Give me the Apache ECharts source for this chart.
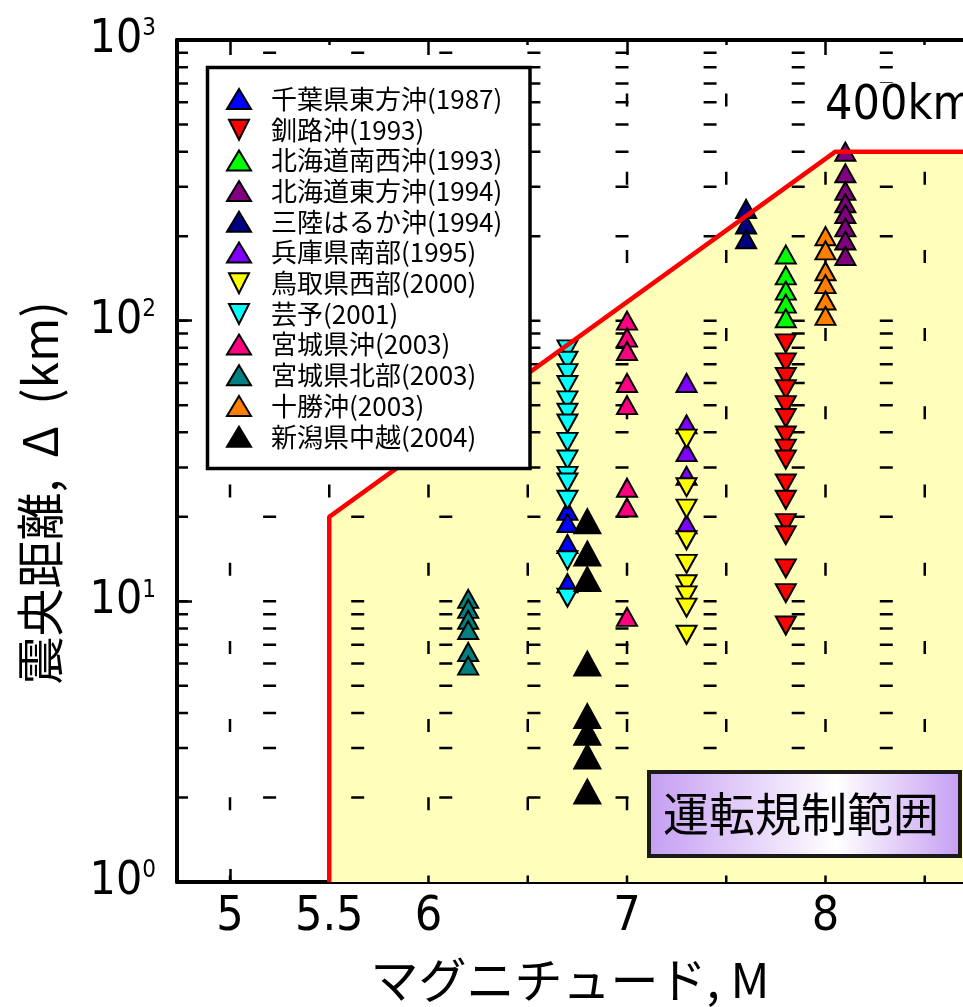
<!DOCTYPE html>
<html>
<head>
<meta charset="utf-8">
<title>運転規制範囲</title>
<script src="https://cdn.jsdelivr.net/npm/echarts@6/dist/echarts.min.js"></script>
<style>
  html, body { margin: 0; padding: 0; background: #fff; }
  #main { width: 963px; height: 1007px; }
</style>
</head>
<body>
<div id="main"></div>
<script>
// 軸
const xMin = 4.733;
const xMax = 9;
const xMajorTicks = [5, 6, 7, 8];
const xHalfTicks = [5.5, 6.5, 7.5, 8.5];
const xLabels = [5, 5.5, 6, 7, 8];
const xGridVals = [5, 5.5, 6, 6.5, 7, 7.5, 8, 8.5];
const yGridVals = [2, 3, 4, 5, 6, 7, 8, 9, 10, 20, 30, 40, 50, 60, 70, 80, 90,
  100, 200, 300, 400, 500, 600, 700, 800, 900];

// 規制境界 (M, km)
const limitM = [5.5, 5.5, 8.05, 9];
const limitD = [1, 20, 400, 400];

// 地震
const quakeNames = [
  "千葉県東方沖(1987)", "釧路沖(1993)", "北海道南西沖(1993)", "北海道東方沖(1994)",
  "三陸はるか沖(1994)", "兵庫県南部(1995)", "鳥取県西部(2000)", "芸予(2001)",
  "宮城県沖(2003)", "宮城県北部(2003)", "十勝沖(2003)", "新潟県中越(2004)"
];
const quakeMags = [6.7, 7.8, 7.8, 8.1, 7.6, 7.3, 7.3, 6.7, 7.0, 6.2, 8.0, 6.8];
const quakeColors = [
  "#0000FF", "#FF0000", "#00FF00", "#800080", "#000080", "#8000FF",
  "#FFFF00", "#00FFFF", "#FF0080", "#008080", "#FF8000", "#000000"
];
const quakeDown = [false, true, false, false, false, false, true, true, false, false, false, false];

// 震央距離 (km)
const dChiba = [21, 19, 16, 11.6];
const dKushiro = [83, 71, 63, 57, 50, 45, 39, 35, 32, 26.3, 23, 19, 17.2, 13.1, 10.7, 8.2];
const dHokkaidoSW = [172, 145, 128, 115, 102];
const dHokkaidoE = [400, 335, 290, 262, 240, 215, 193, 170];
const dSanriku = [250, 220, 195];
const dHyogo = [60, 42.7, 34, 28, 18.8];
const dTottori = [38, 25.5, 21.4, 16.5, 13.6, 11.5, 10.5, 9.5, 7.6];
const dGeiyo = [79, 72, 65, 59, 52, 47, 43, 37, 32, 28, 26.5, 23, 14, 10.3];
const dMiyagiOki = [100, 87, 78, 60, 50, 25.4, 21.6, 8.8];
const dMiyagiN = [10.2, 9.4, 8.6, 7.9, 6.6, 5.9];
const dTokachi = [200, 178, 150, 135, 118, 104];
const dNiigata = [19.3, 14.8, 12.0, 6.0, 3.9, 3.4, 2.8, 2.1];
const quakeDists = [dChiba, dKushiro, dHokkaidoSW, dHokkaidoE, dSanriku, dHyogo,
  dTottori, dGeiyo, dMiyagiOki, dMiyagiN, dTokachi, dNiigata];

const axisFont = "'Liberation Sans Narrow', 'DejaVu Sans Condensed', 'Liberation Sans', sans-serif";
const jpFont = "'Noto Sans CJK JP', sans-serif";
const downTri = "path://M0,0L10,0L5,10Z";

const chart = echarts.init(document.getElementById("main"));

const limitData = limitM.map((m, i) => [m, limitD[i]]);

function xAxisOf(position, ticks, len, withLine, labels) {
  return {
    type: "value",
    min: xMin,
    max: xMax,
    position: position,
    axisLine: { show: withLine, onZero: false, lineStyle: { color: "#000", width: 4 } },
    axisTick: { show: true, inside: true, length: len, customValues: ticks, lineStyle: { color: "#000", width: 2.5 } },
    axisLabel: labels
      ? { show: true, customValues: labels, color: "#000", fontSize: 48, fontFamily: axisFont, margin: 12 }
      : { show: false },
    splitLine: { show: false }
  };
}

// 点線グリッド
function renderGrid(params, api) {
  const children = [];
  yGridVals.forEach((v) => {
    const a = api.coord([xMin, v]);
    const b = api.coord([xMax, v]);
    children.push({
      type: "line",
      shape: { x1: a[0], y1: a[1], x2: b[0], y2: b[1] },
      style: { stroke: "#000", lineWidth: 2.5, lineDash: [13, 75.1], lineDashOffset: 2 }
    });
  });
  xGridVals.forEach((v) => {
    const a = api.coord([v, 1]);
    const b = api.coord([v, 1000]);
    children.push({
      type: "line",
      shape: { x1: a[0], y1: a[1], x2: b[0], y2: b[1] },
      style: { stroke: "#000", lineWidth: 2.5, lineDash: [13, 65.2], lineDashOffset: 6.5 }
    });
  });
  return { type: "group", children: children };
}

const quakeSeries = quakeNames.map((name, i) => ({
  name: name,
  type: "scatter",
  data: quakeDists[i].map((d) => [quakeMags[i], d]),
  symbol: quakeDown[i] ? downTri : "triangle",
  symbolSize: i === 11 ? [26, 24] : [20, 18],
  symbolKeepAspect: false,
  itemStyle: { color: quakeColors[i], borderColor: "#000", borderWidth: 2, opacity: 1 },
  z: 3,
  silent: true
}));

const option = {
  animation: false,
  backgroundColor: "#fff",
  grid: { left: 177, top: 40, bottom: 125, right: -61, outerBoundsMode: "none", containLabel: false },
  xAxis: [
    xAxisOf("bottom", xMajorTicks, 13, true, xLabels),
    xAxisOf("bottom", xHalfTicks, 5, false, null),
    xAxisOf("top", xMajorTicks, 15, true, null),
    xAxisOf("top", xHalfTicks, 5, false, null)
  ],
  yAxis: {
    type: "log",
    logBase: 10,
    min: 1,
    max: 1000,
    axisLine: { show: true, onZero: false, lineStyle: { color: "#000", width: 4 } },
    axisTick: { inside: true, length: 15, lineStyle: { color: "#000", width: 2.5 } },
    axisLabel: {
      margin: 21,
      formatter: (v) => "{b|10}{s|" + Math.round(Math.log10(v)) + "}",
      rich: {
        b: { fontSize: 46, fontFamily: axisFont, color: "#000", lineHeight: 46 },
        s: { fontSize: 24, fontFamily: axisFont, color: "#000", lineHeight: 12, verticalAlign: "top" }
      }
    },
    splitLine: { show: false }
  },
  legend: {
    orient: "vertical",
    left: 226,
    top: 86,
    padding: 0,
    itemWidth: 24,
    itemHeight: 20,
    itemGap: 4.7,
    selectedMode: false,
    data: quakeNames,
    formatter: (name) => "{t|" + name + "}",
    textStyle: {
      rich: { t: { fontFamily: jpFont, fontSize: 26, color: "#000", lineHeight: 20, padding: [0, 0, 0, 15] } }
    },
    z: 30
  },
  graphic: [
    {
      type: "rect",
      z: 25,
      shape: { x: 207.5, y: 67.5, width: 322.5, height: 401 },
      style: { fill: "#fff", stroke: "#000", lineWidth: 3.5 }
    },
    {
      type: "text",
      z: 25,
      x: 823,
      y: 107,
      style: {
        text: "400km", fill: "#000", fontSize: 48, fontFamily: axisFont, verticalAlign: "middle",
        backgroundColor: "#fff", padding: [0, 2]
      }
    },
    {
      type: "rect",
      z: 25,
      shape: { x: 649, y: 772, width: 311, height: 84 },
      style: {
        fill: new echarts.graphic.LinearGradient(0, 0, 1, 0, [
          { offset: 0, color: "#C59DF2" },
          { offset: 0.6, color: "#FFFFFF" },
          { offset: 1, color: "#C59DF2" }
        ]),
        stroke: "#1a1a1a",
        lineWidth: 4
      }
    },
    {
      type: "text",
      z: 26,
      x: 801,
      y: 814,
      style: { text: "運転規制範囲", fill: "#000", fontSize: 46, fontFamily: jpFont, align: "center", verticalAlign: "middle" }
    },
    {
      type: "text",
      z: 25,
      x: 40,
      y: 493,
      rotation: Math.PI / 2,
      style: { text: "震央距離,  Δ  (km)", fill: "#000", fontSize: 48, fontFamily: jpFont, align: "center", verticalAlign: "middle" }
    },
    {
      type: "text",
      z: 25,
      x: 570,
      y: 980,
      style: { text: "マグニチュード, M", fill: "#000", fontSize: 48, fontFamily: jpFont, align: "center", verticalAlign: "middle" }
    }
  ],
  series: [
    {
      name: "area",
      type: "line",
      data: limitData,
      symbol: "none",
      lineStyle: { width: 0 },
      areaStyle: { color: "#FFFFBB", opacity: 1, origin: "start" },
      z: 1,
      silent: true
    },
    {
      name: "grid",
      type: "custom",
      data: [[5, 10]],
      renderItem: renderGrid,
      z: 2,
      silent: true
    },
    ...quakeSeries,
    {
      name: "limit",
      type: "line",
      data: limitData,
      symbol: "none",
      lineStyle: { color: "#FF0000", width: 4.5 },
      z: 4,
      silent: true
    }
  ]
};

chart.setOption(option);
</script>
</body>
</html>
